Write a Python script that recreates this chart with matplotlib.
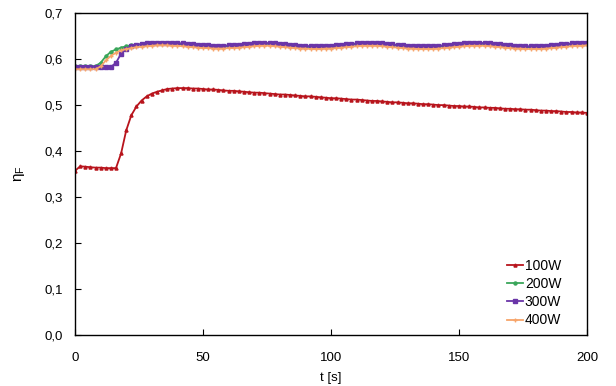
import matplotlib

matplotlib.use("Agg")

import matplotlib.pyplot as plt
import numpy as np
from matplotlib.ticker import FuncFormatter, MultipleLocator

plt.rcParams["font.family"] = ["Liberation Sans", "DejaVu Sans"]
plt.rcParams["font.size"] = 9.5

# time axis [s], one sample every 2 s
t = np.arange(0, 201, 2)

eta_100w = [
    0.357, 0.367, 0.366, 0.365, 0.364, 0.364, 0.363, 0.363, 0.363, 0.395,
    0.445, 0.478, 0.497, 0.510, 0.519, 0.525, 0.529, 0.532, 0.535, 0.536,
    0.537, 0.537, 0.537, 0.536, 0.536, 0.535, 0.534, 0.534, 0.533, 0.532,
    0.531, 0.531, 0.530, 0.529, 0.528, 0.527, 0.527, 0.526, 0.525, 0.524,
    0.523, 0.523, 0.522, 0.521, 0.520, 0.519, 0.519, 0.518, 0.517, 0.516,
    0.515, 0.515, 0.514, 0.513, 0.512, 0.512, 0.511, 0.510, 0.509, 0.509,
    0.508, 0.507, 0.506, 0.506, 0.505, 0.504, 0.504, 0.503, 0.502, 0.502,
    0.501, 0.500, 0.500, 0.499, 0.498, 0.498, 0.497, 0.497, 0.496, 0.495,
    0.495, 0.494, 0.494, 0.493, 0.492, 0.492, 0.491, 0.491, 0.490, 0.490,
    0.489, 0.488, 0.488, 0.487, 0.487, 0.486, 0.485, 0.485, 0.484, 0.484,
    0.483,
]

eta_200w = [
    0.585, 0.585, 0.585, 0.585, 0.585, 0.592, 0.606, 0.616, 0.621, 0.625,
    0.628, 0.630, 0.631, 0.632, 0.633, 0.634, 0.634, 0.634, 0.634, 0.633,
    0.633, 0.632, 0.631, 0.630, 0.629, 0.628, 0.628, 0.627, 0.627, 0.627,
    0.628, 0.628, 0.629, 0.630, 0.631, 0.632, 0.633, 0.633, 0.633, 0.632,
    0.631, 0.630, 0.629, 0.628, 0.627, 0.627, 0.626, 0.626, 0.626, 0.627,
    0.627, 0.628, 0.629, 0.630, 0.631, 0.632, 0.633, 0.633, 0.633, 0.633,
    0.632, 0.631, 0.630, 0.629, 0.628, 0.627, 0.627, 0.626, 0.626, 0.626,
    0.626, 0.627, 0.628, 0.629, 0.630, 0.631, 0.632, 0.633, 0.633, 0.633,
    0.633, 0.632, 0.631, 0.630, 0.629, 0.628, 0.627, 0.627, 0.626, 0.626,
    0.626, 0.626, 0.627, 0.628, 0.629, 0.630, 0.631, 0.632, 0.633, 0.633,
    0.634,
]

eta_300w = [
    0.583, 0.583, 0.583, 0.583, 0.583, 0.583, 0.583, 0.583, 0.592, 0.612,
    0.622, 0.628, 0.631, 0.633, 0.635, 0.636, 0.636, 0.636, 0.636, 0.635,
    0.635, 0.634, 0.633, 0.632, 0.631, 0.630, 0.630, 0.629, 0.629, 0.629,
    0.630, 0.630, 0.631, 0.632, 0.633, 0.634, 0.635, 0.635, 0.635, 0.634,
    0.633, 0.632, 0.631, 0.630, 0.629, 0.629, 0.628, 0.628, 0.628, 0.629,
    0.629, 0.630, 0.631, 0.632, 0.633, 0.634, 0.635, 0.635, 0.635, 0.635,
    0.634, 0.633, 0.632, 0.631, 0.630, 0.629, 0.629, 0.628, 0.628, 0.628,
    0.628, 0.629, 0.630, 0.631, 0.632, 0.633, 0.634, 0.635, 0.635, 0.635,
    0.635, 0.634, 0.633, 0.632, 0.631, 0.630, 0.629, 0.629, 0.628, 0.628,
    0.628, 0.628, 0.629, 0.630, 0.631, 0.632, 0.633, 0.634, 0.635, 0.635,
    0.636,
]

eta_400w = [
    0.578, 0.578, 0.578, 0.578, 0.578, 0.584, 0.597, 0.607, 0.614, 0.619,
    0.622, 0.624, 0.626, 0.627, 0.628, 0.629, 0.630, 0.630, 0.630, 0.629,
    0.629, 0.628, 0.627, 0.626, 0.625, 0.624, 0.624, 0.623, 0.623, 0.623,
    0.624, 0.624, 0.625, 0.626, 0.627, 0.628, 0.629, 0.629, 0.629, 0.628,
    0.627, 0.626, 0.625, 0.624, 0.623, 0.623, 0.622, 0.622, 0.622, 0.623,
    0.623, 0.624, 0.625, 0.626, 0.627, 0.628, 0.629, 0.629, 0.629, 0.629,
    0.628, 0.627, 0.626, 0.625, 0.624, 0.623, 0.623, 0.622, 0.622, 0.622,
    0.622, 0.623, 0.624, 0.625, 0.626, 0.627, 0.628, 0.629, 0.629, 0.629,
    0.629, 0.628, 0.627, 0.626, 0.625, 0.624, 0.623, 0.623, 0.622, 0.622,
    0.622, 0.622, 0.623, 0.624, 0.625, 0.626, 0.627, 0.628, 0.629, 0.629,
    0.630,
]

series = [
    ("100W", eta_100w, "#b8141c", "^"),
    ("200W", eta_200w, "#3aa65a", "o"),
    ("300W", eta_300w, "#6a35a8", "s"),
    ("400W", eta_400w, "#f7a56a", "+"),
]

fig = plt.figure(figsize=(6.16, 3.86), dpi=100)
ax = fig.add_axes([0.1218, 0.132, 0.831, 0.834])

for label, values, color, marker in series:
    ax.plot(t, values, color=color, marker=marker, markersize=2.2,
            linewidth=1.3, label=label)

ax.set_xlim(0, 200)
ax.set_ylim(0, 0.7)
ax.xaxis.set_major_locator(MultipleLocator(50))
ax.yaxis.set_major_locator(MultipleLocator(0.1))
ax.yaxis.set_major_formatter(FuncFormatter(lambda v, _: f"{v:.1f}".replace(".", ",")))
ax.tick_params(direction="in", length=4, width=0.8)
ax.tick_params(axis="x", pad=12)
ax.tick_params(axis="y", pad=9)

for spine in ax.spines.values():
    spine.set_linewidth(1.0)

ax.set_xlabel("t [s]", labelpad=6)
ax.set_ylabel(r"$\mathregular{\eta_F}$", labelpad=12, fontsize=11)

ax.legend(loc="lower right", bbox_to_anchor=(0.965, 0.0), frameon=False,
          handlelength=1.2, handletextpad=0.1, labelspacing=0.3,
          borderaxespad=0.15, fontsize=10, markerscale=1.0)

fig.savefig("out.png", dpi=100)
